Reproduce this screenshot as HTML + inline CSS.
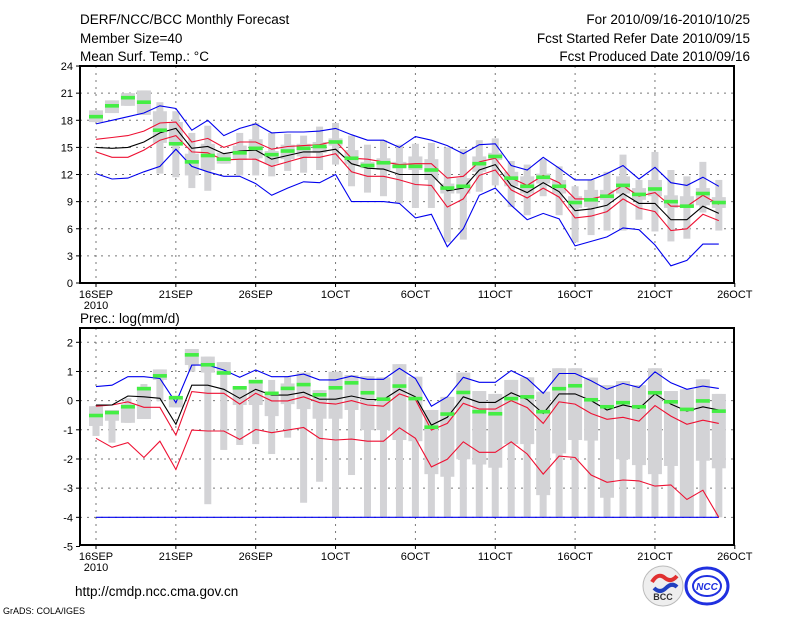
<!DOCTYPE html>
<html><head><meta charset="utf-8"><style>
body{margin:0;background:#fff;}
svg{display:block;font-family:"Liberation Sans",sans-serif;}
</style></head><body>
<svg id="c" width="800" height="618" viewBox="0 0 800 618">
<text x="80" y="24" font-size="13.5">DERF/NCC/BCC Monthly Forecast</text>
<text x="80" y="43" font-size="13.5">Member Size=40</text>
<text x="80" y="61" font-size="13.5">Mean Surf. Temp.: °C</text>
<text x="750" y="24" font-size="13.5" text-anchor="end">For 2010/09/16-2010/10/25</text>
<text x="750" y="43" font-size="13.5" text-anchor="end">Fcst Started Refer Date 2010/09/15</text>
<text x="750" y="61" font-size="13.5" text-anchor="end">Fcst Produced Date 2010/09/16</text>
<text x="80" y="323" font-size="13.5">Prec.: log(mm/d)</text>
<text x="75" y="596" font-size="13.5">http://cmdp.ncc.cma.gov.cn</text>
<text x="3" y="614" font-size="9">GrADS: COLA/IGES</text>
<g>
<circle cx="663" cy="586" r="20" fill="#eee" stroke="#bbb"/>
<path d="M652 582 q6 -10 13 -4 q6 5 12 -2" stroke="#e03030" stroke-width="4" fill="none"/>
<path d="M654 588 q6 6 12 0 q6 -6 11 -1" stroke="#2040c0" stroke-width="4" fill="none"/>
<text x="663" y="600" font-size="9" font-weight="bold" text-anchor="middle" fill="#333">BCC</text>
</g>
<g>
<ellipse cx="707" cy="586" rx="21" ry="18" fill="none" stroke="#2030e0" stroke-width="3"/>
<ellipse cx="707" cy="586" rx="14" ry="10" fill="none" stroke="#2030e0" stroke-width="2"/>
<text x="707" y="590" font-size="10" font-weight="bold" font-style="italic" text-anchor="middle" fill="#2030e0">NCC</text>
</g>
<g id="top"></g>
<g id="bot"></g>
</svg>
<script>
// Temperature panel data (days 16SEP..25OCT)
const tBlueHi=[17.6,18.0,18.4,18.8,19.6,19.3,16.9,18.0,16.3,17.1,17.6,16.6,16.7,16.7,16.8,17.1,16.4,15.8,15.8,15.0,16.2,15.8,15.2,14.3,15.3,15.4,13.0,12.5,13.9,12.7,11.4,11.4,12.1,13.0,11.5,12.8,11.1,10.8,11.7,10.7];
const tBlueLo=[12.1,11.5,11.6,12.3,12.9,14.8,12.9,12.3,11.8,11.8,11.0,9.7,10.5,11.2,11.1,12.0,9.0,9.0,9.0,8.8,7.2,7.6,4.0,6.0,9.7,10.5,8.6,7.0,7.7,7.1,4.1,4.6,5.1,6.1,5.9,4.2,1.9,2.5,4.3,4.3];
const tMean=[15.0,14.9,15.0,15.6,16.6,17.1,14.9,15.1,14.3,14.6,14.7,13.7,14.1,14.5,14.5,14.8,13.2,12.7,12.6,12.0,12.0,12.0,10.2,10.5,12.5,13.1,10.8,10.0,11.1,10.1,8.0,8.2,8.6,9.9,8.8,8.8,7.0,7.0,8.5,7.7];
const tRedHi=[15.9,16.1,16.3,16.8,17.7,17.8,15.6,16.0,15.0,15.6,15.6,14.8,15.1,15.2,15.3,15.7,13.8,13.7,13.4,13.1,13.2,13.2,11.6,11.8,13.4,13.8,11.6,10.8,11.9,11.1,9.3,9.3,9.7,10.8,9.6,10.0,8.5,8.5,9.7,8.7];
const tRedLo=[14.5,13.9,13.9,14.7,15.8,16.3,14.5,14.4,13.6,13.7,13.7,12.9,13.4,13.9,13.9,14.3,12.3,11.8,11.8,11.4,10.9,10.8,8.4,9.3,11.9,12.5,10.3,9.4,10.5,9.5,7.2,7.4,7.9,9.3,8.3,7.9,5.8,6.0,7.6,6.9];
const tBoxHi=[19.1,20.2,21.0,21.3,20.0,19.0,16.6,17.4,14.4,16.6,17.7,16.6,16.5,16.3,17.3,17.7,16.3,15.3,15.8,15.3,15.4,15.5,15.0,14.8,15.8,16.0,13.5,13.1,13.7,12.9,10.7,11.4,12.3,14.2,11.4,14.5,12.5,11.8,13.4,11.4];
const tBoxLo=[17.8,18.8,19.6,18.6,12.1,11.7,10.5,10.2,13.2,11.9,11.9,11.8,12.4,12.2,12.5,13.1,10.7,10.0,9.6,8.8,8.3,8.3,4.5,4.8,10.1,10.8,8.4,7.5,9.6,7.5,4.5,5.3,5.8,5.8,7.0,5.7,4.6,4.9,7.8,5.8];
const tQ3=[19.1,20.2,21.0,21.3,19.0,17.8,14.3,15.4,14.4,15.2,15.9,14.6,15.3,15.4,15.6,16.0,14.7,13.4,13.8,13.4,14.0,13.7,11.0,11.6,14.0,14.4,12.3,11.8,12.1,11.4,9.6,10.3,10.3,11.8,10.5,11.4,9.7,9.6,10.5,9.5];
const tQ1=[17.8,18.8,19.6,18.6,15.5,15.4,11.9,12.5,13.2,13.6,13.8,13.2,13.7,14.0,14.4,15.2,13.1,12.7,12.5,12.7,12.5,11.4,9.9,9.9,12.3,13.6,10.7,9.9,11.0,9.9,8.3,8.4,9.2,9.9,9.2,9.6,8.3,8.4,8.6,8.3];
const tObs=[18.4,19.6,20.5,20.0,16.9,15.4,13.4,14.1,13.7,14.4,14.9,14.2,14.6,14.9,15.1,15.6,13.8,13.0,13.3,12.9,12.9,12.5,10.5,10.7,13.2,14.0,11.6,10.7,11.7,10.7,8.9,9.2,9.6,10.8,9.8,10.4,9.0,8.5,9.9,8.9];
const tTicks=[0,3,6,9,12,15,18,21,24];
// Precipitation panel data
const pBlueHi=[0.48,0.53,0.82,0.82,0.76,-0.07,1.22,1.22,1.05,0.80,1.05,0.82,0.82,0.91,0.71,0.71,0.84,0.73,0.73,1.11,0.76,-0.19,0.13,0.80,0.63,0.63,1.03,0.76,0.25,0.93,0.93,0.68,0.39,0.59,0.45,0.99,0.61,0.39,0.50,0.42];
const pBlueLo=[-4,-4,-4,-4,-4,-4,-4,-4,-4,-4,-4,-4,-4,-4,-4,-4,-4,-4,-4,-4,-4,-4,-4,-4,-4,-4,-4,-4,-4,-4,-4,-4,-4,-4,-4,-4,-4,-4,-4,-4];
const pMean=[-0.15,-0.15,0.16,0.13,0.08,-0.81,0.53,0.53,0.39,0.08,0.39,0.19,0.19,0.29,0.05,0.05,0.16,0.04,0.04,0.39,0.13,-0.84,-0.57,0.13,-0.06,-0.06,0.27,0.04,-0.44,0.23,0.23,0.00,-0.32,-0.15,-0.27,0.23,-0.12,-0.36,-0.21,-0.32];
const pRedHi=[-0.19,-0.15,-0.04,-0.23,-0.23,-1.18,0.31,0.25,0.25,-0.12,0.25,-0.01,-0.01,0.13,-0.07,-0.12,0.00,-0.15,-0.19,0.23,0.04,-1.01,-0.78,-0.09,-0.29,-0.29,0.00,-0.24,-0.78,-0.04,-0.12,-0.44,-0.64,-0.57,-0.70,-0.17,-0.53,-0.81,-0.67,-0.78];
const pRedLo=[-1.29,-1.60,-1.44,-1.95,-1.39,-2.36,-1.01,-1.04,-1.04,-1.33,-0.99,-1.10,-1.01,-0.92,-1.29,-1.35,-1.32,-1.39,-1.39,-0.93,-1.29,-2.27,-2.01,-1.41,-1.77,-1.77,-1.41,-1.83,-2.52,-1.90,-1.95,-2.55,-2.80,-2.72,-2.75,-2.93,-2.89,-3.39,-3.07,-4.0];
const pBoxHi=[-0.19,-0.32,0.08,0.57,1.07,0.17,1.77,1.51,1.32,0.48,0.71,0.71,0.82,0.96,0.36,0.99,0.88,0.84,0.80,1.25,0.82,-0.32,0.13,0.96,0.33,0.23,0.71,0.80,0.31,1.11,1.11,0.79,0.53,0.67,0.53,1.11,0.33,0.39,0.73,0.23];
const pBoxLo=[-1.21,-1.44,-0.76,-0.63,-0.02,-0.23,0.99,-3.55,-1.69,-1.52,-1.49,-1.83,-1.27,-3.50,-2.78,-4,-2.55,-4,-4,-4,-4,-4,-4,-4,-4,-4,-4,-4,-4,-4,-4,-4,-4,-4,-4,-4,-4,-4,-4,-4];
const pQ3=[-0.19,-0.32,-0.12,0.48,1.07,0.13,1.77,1.51,1.32,0.48,0.71,0.31,0.59,0.96,0.36,0.99,0.88,0.84,0.80,1.25,0.82,-0.32,0.13,0.96,0.33,0.23,0.71,0.80,0.31,1.11,1.11,0.79,0.53,0.67,0.53,1.11,0.33,0.39,0.73,0.23];
const pQ1=[-0.87,-0.69,-0.76,-0.63,0.71,-0.23,1.22,0.96,0.88,-0.15,-0.15,-0.53,-0.12,-0.29,-0.62,-0.62,-0.32,-1.01,-1.01,-1.35,-1.39,-2.52,-2.61,-2.01,-2.19,-2.30,-1.49,-1.49,-3.24,-1.81,-1.35,-1.37,-3.33,-2.01,-2.21,-2.52,-2.24,-4,-2.06,-2.32];
const pObs=[-0.51,-0.41,-0.21,0.41,0.85,0.10,1.57,1.23,0.95,0.44,0.65,0.25,0.42,0.55,0.20,0.44,0.61,0.27,0.05,0.50,0.07,-0.91,-0.46,0.28,-0.38,-0.45,0.07,0.13,-0.38,0.41,0.51,0.03,-0.21,-0.07,-0.21,0.27,-0.04,-0.30,-0.01,-0.36];
const pTicks=[-5,-4,-3,-2,-1,0,1,2];
const dateLabels=["16SEP","21SEP","26SEP","1OCT","6OCT","11OCT","16OCT","21OCT","26OCT"];

const NS="http://www.w3.org/2000/svg";
const X0=80,X1=734;
function xs(i){return 96+15.97*i;}
function yT(v){return 283-v*9.04;}
function yB(v){return 342.3+(2-v)*29.17;}
function mk(parent,tag,attrs){const e=document.createElementNS(NS,tag);for(const k in attrs)e.setAttribute(k,attrs[k]);parent.appendChild(e);return e;}

function panel(g,top,bot,ys,ticks,series,pre){
  for(const t of ticks){const y=ys(t);
    if(y>top+1&&y<bot-1){const l=mk(g,'line',{x1:X0,x2:X1,y1:y,y2:y,stroke:'#777','stroke-dasharray':'2,5','stroke-width':1});
    
    }
    const tk=mk(g,'line',{x1:X0-4,x2:X0,y1:y,y2:y,stroke:'#000'});
    
    
    const tx=mk(g,'text',{x:X0-7,y:y+4,'font-size':11,'text-anchor':'end'});tx.textContent=String(t);
    
    
  }
  for(let k=0;k<dateLabels.length;k++){const x=xs(k*5);
    if(x<X1-1){const l=mk(g,'line',{x1:x,x2:x,y1:top,y2:bot,stroke:'#777','stroke-dasharray':'2,5','stroke-width':1});
    
    }
    const tk=mk(g,'line',{x1:x,x2:x,y1:bot,y2:bot+4,stroke:'#000'});
    
    
    const tx=mk(g,'text',{x:x,y:bot+15,'font-size':11,'text-anchor':'middle'});tx.textContent=dateLabels[k];
    
    
  }
  const yr=mk(g,'text',{x:xs(0),y:bot+26,'font-size':11,'text-anchor':'middle'});yr.textContent='2010';
  
  
  const s=series;
  for(let i=0;i<s.hi.length;i++){const x=xs(i);
    const b=mk(g,'rect',{x:x-3.5,y:ys(s.hi[i]),width:7,height:Math.max(1,ys(s.lo[i])-ys(s.hi[i])),fill:'#d3d3d6'});
    
    
    const q=mk(g,'rect',{x:x-7,y:ys(s.q3[i]),width:14,height:Math.max(1,ys(s.q1[i])-ys(s.q3[i])),fill:'#d3d3d6'});
    
    
  }
  const lines=[[s.blo,'#0000ee','blue-min-line'],[s.bhi,'#0000ee','blue-max-line'],[s.rlo,'#ee1133','red-lower-line'],[s.rhi,'#ee1133','red-upper-line'],[s.mean,'#000','ensemble-mean-line']];
  for(const [arr,col,nm] of lines){
    const p=mk(g,'polyline',{points:arr.map((v,i)=>xs(i).toFixed(1)+','+ys(v).toFixed(1)).join(' '),fill:'none',stroke:col,'stroke-width':1.1});
    
    
  }
  for(let i=0;i<s.obs.length;i++){
    const r=mk(g,'rect',{x:xs(i)-7,y:ys(s.obs[i])-1.8,width:14,height:3.6,fill:'#44ee44'});
    
    
  }
  const f=mk(g,'rect',{x:X0,y:top,width:X1-X0,height:bot-top,fill:'none',stroke:'#000','stroke-width':2});
  
  
}
panel(document.getElementById('top'),66,283,yT,tTicks,{hi:tBoxHi,lo:tBoxLo,q3:tQ3,q1:tQ1,bhi:tBlueHi,blo:tBlueLo,rhi:tRedHi,rlo:tRedLo,mean:tMean,obs:tObs},'temp-');
panel(document.getElementById('bot'),328,545,yB,pTicks,{hi:pBoxHi,lo:pBoxLo,q3:pQ3,q1:pQ1,bhi:pBlueHi,blo:pBlueLo,rhi:pRedHi,rlo:pRedLo,mean:pMean,obs:pObs},'prec-');
</script>
</body></html>
